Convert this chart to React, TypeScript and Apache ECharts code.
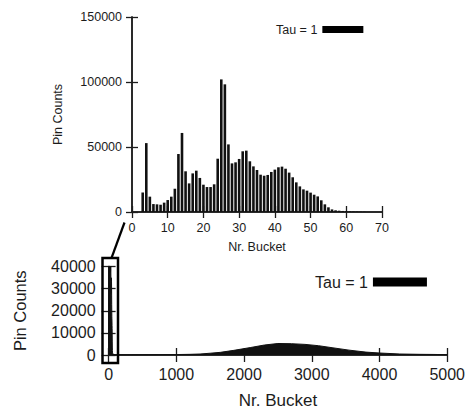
import React, { useEffect, useRef } from "react";
import * as echarts from "echarts";

// Top chart: buckets 3..65 (zoomed view)
const zoomBuckets = [
  3, 4, 5, 6, 7, 8, 9, 10, 11, 12, 13, 14, 15, 16, 17, 18, 19, 20, 21, 22, 23, 24,
  25, 26, 27, 28, 29, 30, 31, 32, 33, 34, 35, 36, 37, 38, 39, 40, 41, 42, 43, 44,
  45, 46, 47, 48, 49, 50, 51, 52, 53, 54, 55, 56, 57, 58, 59, 60, 61, 62, 63, 64, 65,
];
const zoomCounts = [
  15000, 53000, 11800, 6100, 5900, 5600, 7200, 9200, 11800, 17900, 44600, 60800,
  31300, 22000, 29700, 31800, 26200, 21000, 19200, 19200, 21300, 41000, 102000,
  98200, 52000, 37400, 38200, 40800, 46700, 47200, 39000, 35100, 32300, 28700,
  27900, 28500, 30800, 32600, 34400, 34900, 33300, 30300, 26700, 22800, 19700,
  17400, 16400, 14900, 13300, 12000, 9000, 5900, 3600, 2000, 1300, 1000, 800, 600,
  500, 400, 300, 200, 150,
];

// Bottom chart: remaining buckets
const fullBuckets = [
  100, 300, 500, 800, 1000, 1200, 1350, 1500, 1650, 1850, 2100, 2300, 2500, 2700,
  2900, 3100, 3300, 3550, 3800, 4000, 4300, 4600, 4800, 5000,
];
const fullCounts = [
  80, 60, 100, 150, 200, 300, 450, 800, 1200, 2100, 3400, 4500, 5200, 5100, 4800,
  4200, 3300, 2200, 1300, 900, 450, 300, 250, 150,
];

const seriesName = "Tau = 1";
const topXTicks = { min: 0, max: 70, interval: 10 };
const topYTicks = { min: 0, max: 150000, interval: 50000 };
const botXTicks = { min: 0, max: 5000, interval: 1000 };
const botYTicks = { min: 0, max: 40000, interval: 10000 };

const FONT = "Liberation Sans";
const INK = "#1c1c1c";

export default function App() {
  const ref = useRef<HTMLDivElement>(null);

  useEffect(() => {
    if (!ref.current) return;
    const chart = echarts.init(ref.current, undefined, { renderer: "svg" });

    const line = { show: true, lineStyle: { color: INK, width: 1.5 } };
    const tick = (len: number) => ({
      show: true,
      inside: true,
      length: len,
      lineStyle: { color: INK, width: 1.3 },
    });
    const plain = (v: number) => String(v);

    const bottomData: [number, number][] = [[0, 0], [2, 0]];
    zoomBuckets.forEach((b, i) => bottomData.push([b, zoomCounts[i]]));
    fullBuckets.forEach((b, i) => bottomData.push([b, fullCounts[i]]));

    chart.setOption({
      animation: false,
      textStyle: { fontFamily: FONT, color: INK },
      grid: [
        { left: 132, top: 17, width: 250, height: 195 },
        { left: 108.6, top: 266.5, width: 340.2, height: 89 },
      ],
      legend: [
        {
          data: [seriesName],
          left: 276,
          top: 23,
          padding: 0,
          align: "right",
          icon: "rect",
          itemWidth: 41,
          itemHeight: 7,
          textStyle: { fontSize: 12.5, color: INK, fontFamily: FONT },
          itemStyle: { color: "#000" },
        },
        {
          data: [seriesName],
          left: 315,
          top: 274,
          padding: 0,
          align: "right",
          icon: "rect",
          itemWidth: 54,
          itemHeight: 9,
          textStyle: { fontSize: 16, color: INK, fontFamily: FONT },
          itemStyle: { color: "#000" },
        },
      ],
      xAxis: [
        {
          gridIndex: 0,
          type: "value",
          position: "bottom",
          ...topXTicks,
          axisLine: line,
          axisTick: tick(6),
          splitLine: { show: false },
          axisLabel: { fontSize: 12.5, margin: 9, color: INK, fontFamily: FONT, formatter: plain },
          name: "Nr. Bucket",
          nameLocation: "middle",
          nameGap: 28,
          nameTextStyle: { fontSize: 12.5, color: INK, fontFamily: FONT },
        },
        {
          gridIndex: 0,
          type: "value",
          position: "top",
          ...topXTicks,
          axisLine: line,
          axisTick: tick(6),
          splitLine: { show: false },
          axisLabel: { show: false },
        },
        {
          gridIndex: 1,
          type: "value",
          position: "bottom",
          ...botXTicks,
          axisLine: line,
          axisTick: tick(7),
          splitLine: { show: false },
          axisLabel: { fontSize: 16, margin: 11, color: INK, fontFamily: FONT, formatter: plain },
          name: "Nr. Bucket",
          nameLocation: "middle",
          nameGap: 37,
          nameTextStyle: { fontSize: 17, color: INK, fontFamily: FONT },
        },
        {
          gridIndex: 1,
          type: "value",
          position: "top",
          ...botXTicks,
          axisLine: line,
          axisTick: tick(7),
          splitLine: { show: false },
          axisLabel: { show: false },
        },
      ],
      yAxis: [
        {
          gridIndex: 0,
          type: "value",
          position: "left",
          ...topYTicks,
          axisLine: line,
          axisTick: tick(6),
          splitLine: { show: false },
          axisLabel: { fontSize: 12.5, margin: 10, color: INK, fontFamily: FONT, formatter: plain },
          name: "Pin Counts",
          nameLocation: "middle",
          nameGap: 68,
          nameTextStyle: { fontSize: 12.5, color: INK, fontFamily: FONT },
        },
        {
          gridIndex: 0,
          type: "value",
          position: "right",
          ...topYTicks,
          axisLine: line,
          axisTick: tick(6),
          splitLine: { show: false },
          axisLabel: { show: false },
        },
        {
          gridIndex: 1,
          type: "value",
          position: "left",
          ...botYTicks,
          axisLine: line,
          axisTick: tick(7),
          splitLine: { show: false },
          axisLabel: { fontSize: 16, margin: 13, color: INK, fontFamily: FONT, formatter: plain },
          name: "Pin Counts",
          nameLocation: "middle",
          nameGap: 80,
          nameTextStyle: { fontSize: 16.5, color: INK, fontFamily: FONT },
        },
        {
          gridIndex: 1,
          type: "value",
          position: "right",
          ...botYTicks,
          axisLine: line,
          axisTick: tick(7),
          splitLine: { show: false },
          axisLabel: { show: false },
        },
      ],
      series: [
        {
          name: seriesName,
          type: "bar",
          xAxisIndex: 0,
          yAxisIndex: 0,
          barWidth: 2.6,
          itemStyle: { color: "#111" },
          data: zoomBuckets.map((b, i) => [b, zoomCounts[i]]),
        },
        {
          name: seriesName,
          type: "line",
          xAxisIndex: 2,
          yAxisIndex: 2,
          showSymbol: false,
          clip: true,
          color: "#111",
          lineStyle: { color: "#111", width: 1 },
          areaStyle: { color: "#111", opacity: 1 },
          data: bottomData,
        },
      ],
      graphic: [
        {
          type: "rect",
          shape: { x: 102.5, y: 258, width: 15.5, height: 105 },
          style: { fill: "rgba(0,0,0,0)", stroke: "#000", lineWidth: 2.5 },
          z: 100,
        },
        {
          type: "line",
          shape: { x1: 124.5, y1: 222.5, x2: 111.5, y2: 258 },
          style: { stroke: "#000", lineWidth: 2.2 },
          z: 100,
        },
      ],
    });

    return () => chart.dispose();
  }, []);

  return (
    <div
      ref={ref}
      style={{ position: "fixed", left: 0, top: 0, width: 468, height: 410, background: "#fff" }}
    />
  );
}
